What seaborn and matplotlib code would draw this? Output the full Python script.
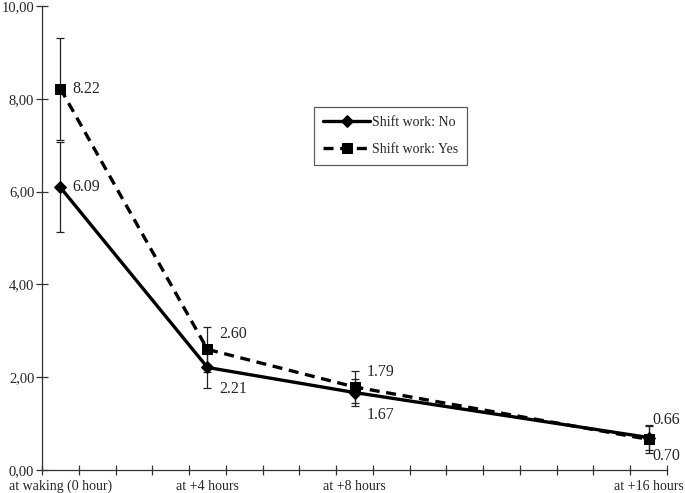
import matplotlib
matplotlib.use("Agg")
import matplotlib.pyplot as plt
import pandas as pd
import seaborn as sns

# Data
hours = [0, 4, 8, 16]
hour_labels = ['at waking (0 hour)', 'at +4 hours', 'at +8 hours', 'at +16 hours']
shift_no = [6.09, 2.21, 1.67, 0.70]
shift_no_err = [0.97, 0.44, 0.29, 0.27]
shift_yes = [8.22, 2.60, 1.79, 0.66]
shift_yes_err = [1.10, 0.48, 0.35, 0.29]
groups = ['Shift work: No', 'Shift work: Yes']

df = pd.DataFrame({
    'hour': hours * 2,
    'value': shift_no + shift_yes,
    'err': shift_no_err + shift_yes_err,
    'group': [groups[0]] * 4 + [groups[1]] * 4,
})

sns.set_style('white')
plt.rcParams['font.family'] = ['Liberation Serif', 'DejaVu Serif']

fig = plt.figure(figsize=(6.85, 4.93), dpi=100)
ax = fig.add_axes([42 / 685, 23 / 493, 625 / 685, 464 / 493])

# error bars first so the lines sit on top
for g in groups:
    sub = df[df['group'] == g]
    ax.errorbar(sub['hour'], sub['value'], yerr=sub['err'], fmt='none',
                ecolor='#222222', elinewidth=0.9, capsize=3, capthick=0.9, zorder=2)

sns.lineplot(data=df, x='hour', y='value', style='group', ax=ax,
             markers={groups[0]: 'D', groups[1]: 's'},
             dashes={groups[0]: '', groups[1]: (3, 2)},
             color='black', linewidth=2.4, markersize=6.5,
             markeredgecolor='black', zorder=3)

# value labels: (dx px, dy px)
offsets_no = [(12, 0), (12, -22), (12, -22), (4, -18)]
offsets_yes = [(12, 0), (12, 15), (12, 15), (4, 19)]
for h, v, (dx, dy) in zip(hours, shift_no, offsets_no):
    ax.annotate(f'{v:.2f}', (h, v), xytext=(dx, dy), textcoords='offset pixels',
                ha='left', va='center', fontsize=11.5)
for h, v, (dx, dy) in zip(hours, shift_yes, offsets_yes):
    ax.annotate(f'{v:.2f}', (h, v), xytext=(dx, dy), textcoords='offset pixels',
                ha='left', va='center', fontsize=11.5)

ax.set_xlim(-0.5, 16.5)
ax.set_ylim(0, 10)
ax.set_xticks(hours)
ax.set_xticklabels(hour_labels, fontsize=10)
ax.set_xticks([x - 0.5 for x in range(18)], minor=True)
ax.tick_params(axis='x', which='major', bottom=True, length=0, pad=7)
ax.tick_params(axis='x', which='minor', bottom=True, direction='inout', length=7,
               width=0.9, color='#333333')
ax.set_yticks([0, 2, 4, 6, 8, 10])
ax.set_yticklabels([f'{v:.2f}'.replace('.', ',') for v in [0, 2, 4, 6, 8, 10]], fontsize=10.5)
ax.tick_params(axis='y', left=True, direction='inout', length=9, width=0.9,
               color='#333333', pad=1)
ax.set_xlabel('')
ax.set_ylabel('')

sns.despine(ax=ax)
for s in ['left', 'bottom']:
    ax.spines[s].set_color('#333333')
    ax.spines[s].set_linewidth(0.9)

leg = ax.legend(title=None, loc='upper left', bbox_to_anchor=(0.435, 0.782),
                borderaxespad=0, frameon=True, fancybox=False, fontsize=10,
                handlelength=3.4, borderpad=0.65, labelspacing=1.0, handletextpad=0.1)
leg.get_frame().set_edgecolor('#333333')
leg.get_frame().set_linewidth(0.9)

fig.savefig('out.png', dpi=100)
